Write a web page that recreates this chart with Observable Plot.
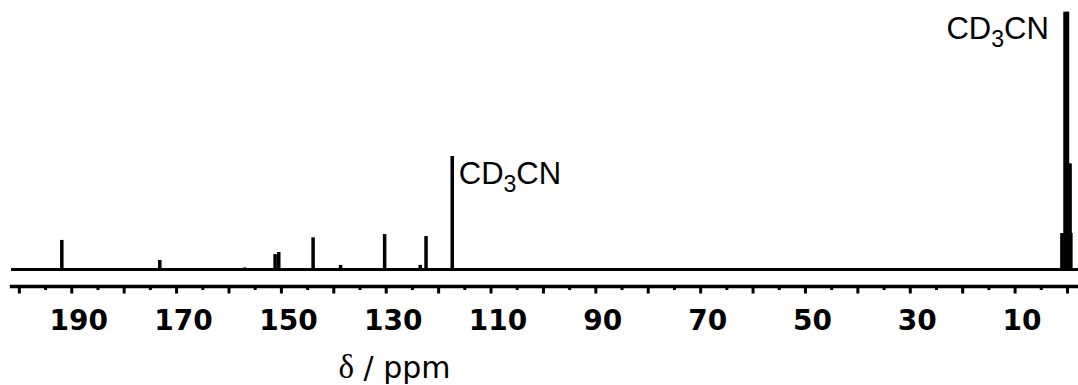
<!DOCTYPE html>
<html>
<head>
<meta charset="utf-8">
<script src="https://cdn.jsdelivr.net/npm/d3@7"></script>
<script src="https://cdn.jsdelivr.net/npm/@observablehq/plot@0.6"></script>
<style>
  html, body { margin: 0; padding: 0; background: #fff; }
  #chart svg { display: block; }
</style>
</head>
<body>
<div id="chart"></div>
<script>
// 13C NMR peaks (chemical shift in ppm, relative intensity in % of the tallest line)
const shifts      = [191.9, 173.2, 157.0, 151.2, 150.5, 143.95, 138.7, 130.3, 123.5, 122.4, 117.4];
const intensities = [11.3,  3.5,   0.6,   5.8,   6.6,   12.3,   1.6,   13.6,  1.6,   12.8,  43.9];

// CD3CN methyl septet lines
const septetShifts      = [1.18, 0.90, 0.59, 0.32, 0.06, -0.11, -0.42, -0.61, -0.76];
const septetIntensities = [14,   14,   100,  100,  100,  100,   41,    41,    14];

// Solvent annotations
const solventLabel = "CD3CN";
const nitrileLabel = {ppm: 117.4, intensity: 43.9};
const methylLabel  = {ppm: 0.32, intensity: 100};

// Axis
const majorTicks = d3.range(0, 201, 10);
const minorTicks = d3.range(5, 200, 10);
const tickLabels = d3.range(10, 200, 20);
const axisTitle = "δ / ppm";

const peaks = shifts.map((ppm, i) => ({ppm, intensity: intensities[i]}));
const septet = septetShifts.map((ppm, i) => ({ppm, intensity: septetIntensities[i]}));

const chart = Plot.plot({
  width: 1078,
  height: 385,
  marginLeft: 11,
  marginRight: 0,
  marginTop: 0,
  marginBottom: 99,
  x: {domain: [201.5, -2.1]},
  y: {domain: [0, 100], insetTop: 11.7, insetBottom: 17, axis: null},
  style: {background: "white", color: "black", overflow: "visible"},
  marks: [
    Plot.ruleY([0], {stroke: "black", strokeWidth: 2.8}),
    Plot.ruleX(peaks, {x: "ppm", y: "intensity", stroke: "black", strokeWidth: 3.5}),
    Plot.ruleX(septet, {x: "ppm", y: "intensity", stroke: "black", strokeWidth: 2.3}),
    Plot.frame({anchor: "bottom", stroke: "black", strokeWidth: 3.3}),
    Plot.axisX(majorTicks, {anchor: "bottom", tickSize: 7.5, strokeWidth: 3, tickFormat: () => "", label: null}),
    Plot.axisX(minorTicks, {anchor: "bottom", tickSize: 4, strokeWidth: 3, tickFormat: () => "", label: null}),
    Plot.axisX(tickLabels, {
      anchor: "bottom", tickSize: 0, tickPadding: 24, dx: 7, label: null,
      fontSize: 28, fontWeight: "bold", fontFamily: "DejaVu Sans", fill: "black"
    }),
    Plot.text([nitrileLabel], {
      x: "ppm", y: "intensity", text: () => solventLabel,
      textAnchor: "start", lineAnchor: "bottom", dx: 6.5, dy: 27,
      fontSize: 31, fontFamily: "Liberation Sans, Arial, sans-serif", fill: "black"
    }),
    Plot.text([methylLabel], {
      x: "ppm", y: "intensity", text: () => solventLabel,
      textAnchor: "end", lineAnchor: "bottom", dx: -17, dy: 26.6,
      fontSize: 31, fontFamily: "Liberation Sans, Arial, sans-serif", fill: "black"
    }),
    Plot.text([axisTitle], {
      frameAnchor: "bottom-left", textAnchor: "start", lineAnchor: "bottom",
      dx: 327, dy: 91, fontSize: 30, fontFamily: "DejaVu Sans, sans-serif", fill: "black"
    })
  ]
});

document.getElementById("chart").appendChild(chart);

// Subscript the isotope count and set the delta in a serif face
chart.querySelectorAll("text").forEach(t => {
  if (t.textContent === solventLabel) {
    t.innerHTML = 'CD<tspan dy="8" font-size="23">3</tspan><tspan dy="-8">CN</tspan>';
  } else if (t.textContent === axisTitle) {
    t.innerHTML = '<tspan font-family="Liberation Serif, serif" font-size="33">δ</tspan> / ppm';
  }
});
</script>
</body>
</html>
